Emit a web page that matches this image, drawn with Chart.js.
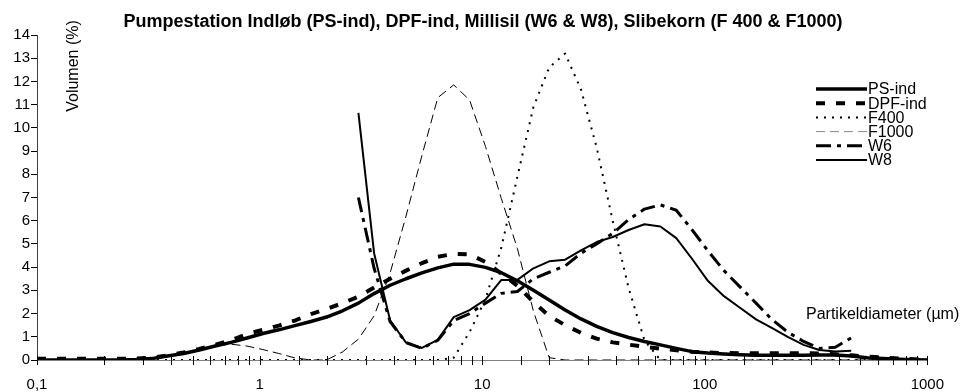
<!DOCTYPE html>
<html>
<head>
<meta charset="utf-8">
<title>Partikelstørrelsesfordeling</title>
<script src="https://cdn.jsdelivr.net/npm/chart.js@4.4.0/dist/chart.umd.min.js"></script>
<style>
  html, body { margin: 0; padding: 0; background: #fff; }
  #wrap { width: 960px; height: 392px; }
</style>
</head>
<body>
<div id="wrap"><canvas id="psd"></canvas></div>
<script>
// partikeldiameter (µm) for hver måleklasse
var sizes = [0.1, 0.122, 0.144, 0.17, 0.2, 0.236, 0.278, 0.327, 0.386, 0.455, 0.536, 0.632, 0.745, 0.878,
  1.035, 1.22, 1.44, 1.7, 2.0, 2.36, 2.78, 3.27, 3.86, 4.55, 5.36, 6.32, 7.45, 8.78,
  10.35, 12.2, 14.4, 17.0, 20.0, 23.6, 27.8, 32.7, 38.6, 45.5, 53.6, 63.2, 74.5, 87.8,
  103.5, 122, 144, 170, 200, 236, 278, 327, 386, 455, 536, 632, 745, 878, 1000];

// volumen (%) pr. klasse
var psInd = [0, 0, 0, 0, 0, 0, 0.02, 0.06, 0.17, 0.28, 0.43, 0.6, 0.76, 0.95,
  1.14, 1.3, 1.48, 1.66, 1.85, 2.12, 2.45, 2.86, 3.22, 3.5, 3.75, 3.97, 4.13, 4.12,
  3.99, 3.76, 3.41, 3.0, 2.58, 2.15, 1.77, 1.45, 1.18, 0.97, 0.8, 0.65, 0.5, 0.36,
  0.3, 0.26, 0.23, 0.2, 0.2, 0.2, 0.2, 0.22, 0.22, 0.17, 0.1, 0.06, 0.03, 0.01, 0];

var dpfInd = [0.05, 0.05, 0.05, 0.05, 0.05, 0.05, 0.06, 0.1, 0.2, 0.32, 0.48, 0.66, 0.85, 1.12,
  1.3, 1.48, 1.7, 1.98, 2.2, 2.45, 2.73, 3.12, 3.5, 3.85, 4.17, 4.45, 4.57, 4.55,
  4.22, 3.72, 3.2, 2.5, 1.9, 1.5, 1.17, 0.92, 0.76, 0.66, 0.57, 0.49, 0.42, 0.36,
  0.32, 0.3, 0.29, 0.29, 0.29, 0.29, 0.29, 0.28, 0.25, 0.2, 0.15, 0.1, 0.06, 0.03, 0];

var f400 = [0, 0, 0, 0, 0, 0, 0, 0, 0, 0, 0, 0, 0, 0,
  0, 0, 0, 0, 0, 0, 0, 0, 0, 0, 0, 0, 0.1, 1.2,
  2.62, 4.85, 7.9, 10.9, 12.6, 13.2, 11.65, 9.15, 6.0, 3.1, 0.85, 0, 0, 0,
  0, 0, 0, 0, 0, 0, 0, 0, 0, 0, 0, 0, 0, 0, 0];

var f1000 = [0, 0, 0, 0, 0, 0, 0, 0.06, 0.17, 0.3, 0.45, 0.62, 0.68, 0.6,
  0.45, 0.28, 0.09, 0, 0, 0.35, 0.9, 1.9, 3.75, 6.2, 8.8, 11.3, 11.85, 11.2,
  9.2, 6.95, 4.8, 2.1, 0.1, 0, 0, 0, 0, 0, 0, 0, 0, 0,
  0, 0, 0, 0, 0, 0, 0, 0, 0, 0, 0, 0, 0, 0, 0];

var w6 = [null, null, null, null, null, null, null, null, null, null, null, null, null, null,
  null, null, null, null, null, null, 7.0, 3.95, 1.65, 0.75, 0.5, 0.85, 1.7, 2.0,
  2.45, 2.87, 2.95, 3.5, 3.78, 4.05, 4.6, 5.0, 5.45, 6.05, 6.5, 6.68, 6.45, 5.6,
  4.7, 3.85, 3.15, 2.45, 1.75, 1.2, 0.8, 0.5, 0.55, 0.95, null, null, null, null, null];

var w8 = [null, null, null, null, null, null, null, null, null, null, null, null, null, null,
  null, null, null, null, null, null, 10.65, 4.6, 1.7, 0.75, 0.52, 0.87, 1.85, 2.15,
  2.6, 3.45, 3.45, 3.95, 4.25, 4.32, 4.72, 5.08, 5.3, 5.6, 5.85, 5.75, 5.25, 4.35,
  3.4, 2.75, 2.25, 1.75, 1.38, 1.0, 0.65, 0.43, 0.37, 0.4, null, null, null, null, null];

var seriesNames = ['PS-ind', 'DPF-ind', 'F400', 'F1000', 'W6', 'W8'];
var chartTitle = 'Pumpestation Indløb (PS-ind), DPF-ind, Millisil (W6 & W8), Slibekorn (F 400 & F1000)';
var xTitle = 'Partikeldiameter (µm)';
var yTitle = 'Volumen (%)';

var FONT = '"Liberation Sans", Arial, sans-serif';
Chart.defaults.font.family = FONT;
Chart.defaults.color = '#000';

function points(vals) {
  return sizes.map(function (s, i) { return { x: s, y: vals[i] }; });
}

function line(label, vals, width, dash, legendColor) {
  return {
    label: label,
    data: points(vals),
    borderColor: '#000',
    backgroundColor: '#000',
    legendColor: legendColor || '#000',
    borderWidth: width,
    borderDash: dash,
    borderCapStyle: 'butt',
    borderJoinStyle: 'round',
    pointRadius: 0,
    tension: 0,
    fill: false,
    spanGaps: false
  };
}

// titel, akse-titler, forklaring og krydsende streger på x-aksen
var overlay = {
  id: 'overlay',
  afterDraw: function (chart) {
    var ctx = chart.ctx;
    var xs = chart.scales.x;
    var area = chart.chartArea;
    ctx.save();

    ctx.strokeStyle = '#000';
    ctx.lineWidth = 1;
    ctx.setLineDash([]);
    xs.ticks.forEach(function (t) {
      var px = Math.round(xs.getPixelForValue(t.value)) + 0.5;
      ctx.beginPath();
      ctx.moveTo(px, area.bottom - 4);
      ctx.lineTo(px, area.bottom + 5);
      ctx.stroke();
    });

    ctx.fillStyle = '#000';
    ctx.textBaseline = 'middle';

    ctx.font = 'bold 18px ' + FONT;
    ctx.textAlign = 'center';
    ctx.fillText(chartTitle, 483, 22);

    ctx.font = '16px ' + FONT;
    ctx.textAlign = 'left';
    ctx.fillText(xTitle, 806, 315);

    ctx.save();
    ctx.translate(74, 66);
    ctx.rotate(-Math.PI / 2);
    ctx.textAlign = 'center';
    ctx.fillText(yTitle, 0, 0);
    ctx.restore();

    // forklaring
    chart.data.datasets.forEach(function (ds, i) {
      var y = 89 + i * 14.2;
      ctx.beginPath();
      ctx.strokeStyle = ds.legendColor;
      ctx.lineWidth = ds.borderWidth;
      ctx.lineCap = 'butt';
      ctx.setLineDash(ds.borderDash || []);
      ctx.moveTo(816, y);
      ctx.lineTo(867, y);
      ctx.stroke();
      ctx.setLineDash([]);
      ctx.textAlign = 'left';
      ctx.fillText(ds.label, 868, y + 1);
    });

    ctx.restore();
  }
};

new Chart(document.getElementById('psd'), {
  type: 'line',
  data: {
    datasets: [
      line(seriesNames[0], psInd, 3.5, []),
      line(seriesNames[1], dpfInd, 4, [9, 11]),
      line(seriesNames[2], f400, 2, [2, 6]),
      line(seriesNames[3], f1000, 1, [9, 5], '#888'),
      line(seriesNames[4], w6, 3, [15, 6, 4, 6]),
      line(seriesNames[5], w8, 2, [])
    ]
  },
  options: {
    responsive: true,
    maintainAspectRatio: false,
    animation: false,
    layout: { padding: { left: 0, right: 19, top: 35, bottom: 0 } },
    plugins: {
      legend: { display: false },
      tooltip: { enabled: false },
      title: { display: false }
    },
    scales: {
      x: {
        type: 'logarithmic',
        min: 0.1,
        max: 1000,
        afterFit: function (s) { s.height = 32; },
        border: { display: true, color: '#808080', width: 1 },
        grid: { display: false, drawTicks: false },
        ticks: {
          autoSkip: false,
          maxRotation: 0,
          padding: 16,
          font: { size: 15 },
          callback: function (v) {
            var l = Math.log10(v);
            if (Math.abs(l - Math.round(l)) > 1e-6) return '';
            return v < 1 ? '0,1' : String(Math.round(v));
          }
        }
      },
      y: {
        min: 0,
        max: 14,
        afterFit: function (s) { s.width = 37; },
        border: { display: true, color: '#404040', width: 1 },
        grid: { drawOnChartArea: false, drawTicks: true, tickLength: 6, color: '#000' },
        ticks: { stepSize: 1, padding: 1, font: { size: 15 } }
      }
    }
  },
  plugins: [overlay]
});
</script>
</body>
</html>
